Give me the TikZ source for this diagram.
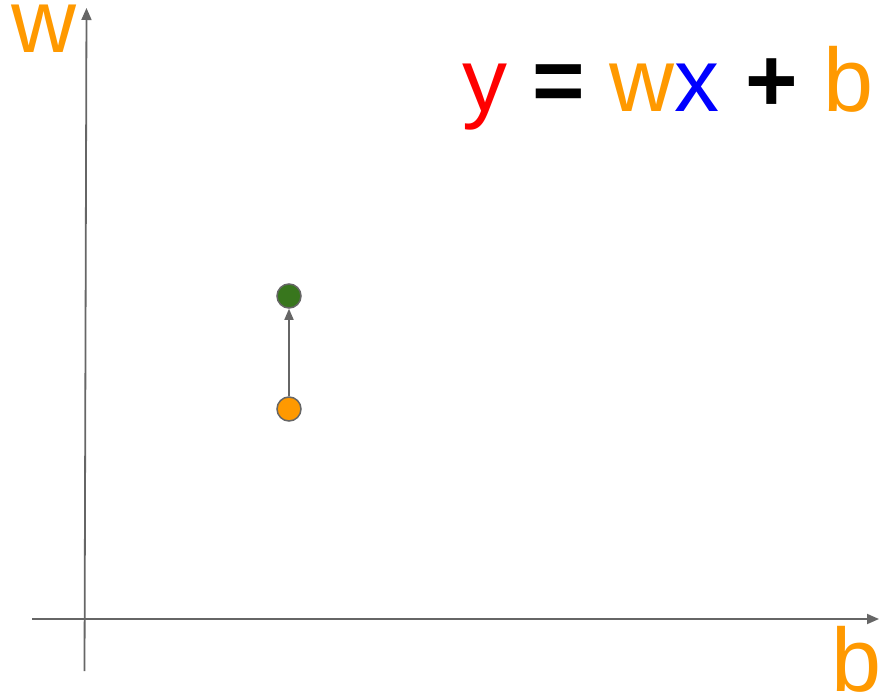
\documentclass[tikz,border=0pt]{standalone}
\usepackage{fontspec}
\setmainfont{Liberation Sans}
\usetikzlibrary{arrows.meta}
\definecolor{orng}{HTML}{FF9900}
\definecolor{grn}{HTML}{38761D}
\definecolor{axgray}{HTML}{666666}
\begin{document}
\begin{tikzpicture}[x=1pt,y=-1pt,
  axis/.style={draw=axgray,line width=1.8pt,-{Triangle[length=12pt,width=10pt]}},
  conn/.style={draw=axgray,line width=1.6pt,-{Triangle[length=11pt,width=9pt]}},
  dot/.style={circle,draw=axgray,line width=1.5pt,minimum size=24pt,inner sep=0pt},
  lbl/.style={font=\fontsize{90}{90}\selectfont,inner sep=0pt,anchor=base west}]
\useasboundingbox (0,0) rectangle (883,695);
\coordinate (vb) at (84.5,671);
\coordinate (vt) at (86.5,8);
\coordinate (hl) at (32,619);
\coordinate (hr) at (879,619);
\draw[axis] (vb) -- (vt);
\draw[axis] (hl) -- (hr);
\node[dot,fill=grn] (g) at (289,296) {};
\node[dot,fill=orng] (o) at (289,409) {};
\draw[conn] (o) -- (g);
\node[lbl,text=orng] (wl) at (11,53) {w};
\node[lbl,text=orng] (bl) at (831,691) {b};
\node[lbl] (eq) at (462,112) {\textcolor{red}{y}\hspace{25pt}\textbf{=}\hspace{25pt}\textcolor{orng}{w}\textcolor{blue}{x}\hspace{26pt}\textbf{+}\hspace{25pt}\textcolor{orng}{b}};
\end{tikzpicture}
\end{document}
